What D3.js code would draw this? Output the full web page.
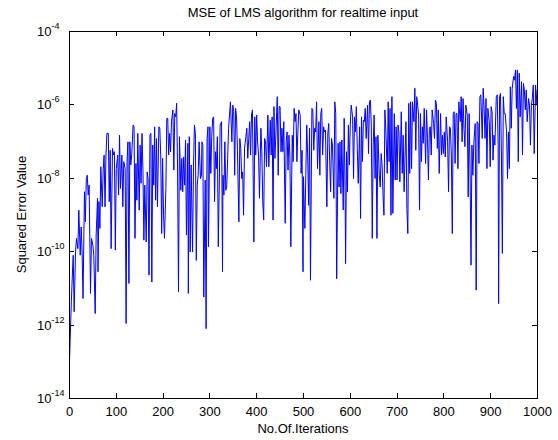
<!DOCTYPE html>
<html>
<head>
<meta charset="utf-8">
<script src="https://cdn.jsdelivr.net/npm/d3@7"></script>
<style>
  html, body { margin: 0; padding: 0; background: #fff; }
  svg { display: block; }
  text { font-family: "Liberation Sans", Arial, Helvetica, sans-serif; fill: #000; }
</style>
</head>
<body>
<script>
// MSE curve. errExp = log10 of the squared error
let iters = [
  1,5,8,9,11,14,16,19,21,24,26,28,30,33,35,37,39,41,43,46,48,51,53,56,58,61,62,64,66,68,71,73,75,77,79,81,84,86,88,90,93,95,97,99,101,104,106,108,110,113,115,117,120,122,124,126,128,130,132,134,137,
  139,141,143,145,147,150,152,154,156,158,160,162,165,167,169,171,173,175,177,179,181,183,185,187,189,192,194,196,198,200,202,204,207,209,211,213,215,217,219,222,224,226,228,230,232,234,236,239,241,243,245,247,249,251,254,255,257,259,261,264,266,268,270,272,274,276,278,281,283,
  284,286,288,291,293,295,297,298,301,303,305,307,309,311,313,315,317,319,321,323,326,328,329,331,333,335,337,339,341,343,345,348,350,352,354,356,358,360,363,365,367,369,371,373,375,378,380,382,384,386,388,390,392,395,397,399,401,403,405,407,410,412,414,416,418,420,422,425,427,
  430,432,434,436,438,440,442,445,447,449,451,453,455,457,459,462,464,466,468,470,472,474,477,479,481,483,485,487,489,491,494,496,498,500,501,504,506,508,510,512,514,516,519,521,523,525,527,529,531,534,536,538,540,542,544,546,548,551,553,555,557,559,561,563,566,568,570,572,
  575,577,579,581,583,586,588,590,591,593,595,597,599,601,603,606,608,610,612,614,616,618,621,623,625,627,629,631,633,635,638,640,642,644,646,648,650,652,654,656,658,660,663,665,667,669,671,673,675,677,680,682,684,686,688,690,692,695,697,699,701,703,705,707,710,712,714,716,
  720,722,724,726,728,730,732,734,737,739,741,743,745,747,749,751,753,755,757,759,762,764,766,768,770,772,774,776,779,781,783,785,787,789,791,794,796,798,800,802,804,806,809,811,813,815,817,819,821,823,825,827,829,831,833,836,838,840,842,844,846,848,851,853,855,857,859,861,863,865,868,
  870,872,874,876,878,880,883,885,887,889,891,893,895,898,900,902,904,906,908,910,913,915,917,918,920,922,924,926,928,930,932,935,937,939,941,943,945,947,950,952,954,956,958,960,962,964,967,969,971,973,975,977,979,982,984,986,988,990,992,994,997,998,1000
]

let errExp = [
  -13.02,-11.38,-10.38,-10.11,-11.65,-10.02,-9.65,-9.93,-8.88,-10.11,-9.34,-10.02,-11.29,-8.38,-9.2,-8.02,-7.93,-8.47,-8.2,-11.15,-9.65,-9.84,-10.11,-11.7,-9.56,-8.56,-10.56,-8.65,-9.38,-7.7,-8.79,-7.79,-7.38,-8.79,-7.38,-6.79,-6.79,-8.65,-7.25,-9.93,-7.2,-7.38,-7.29,-9.97,-7.75,-7.38,-8.47,-6.84,-8.29,-7.38,-8.79,-7.56,-7.75,-11.97,-7.56,-7.02,-10.88,-7.02,-7.65,-7.38,-6.56,
  -6.61,-9.65,-7.61,-8.61,-6.79,-8.88,-7.11,-8.15,-6.79,-7.79,-9.7,-8.2,-9.75,-7.84,-8.02,-10.65,-6.84,-6.79,-10.84,-7.11,-8.2,-6.61,-8.61,-6.93,-8.79,-6.61,-6.65,-7.38,-9.52,-7.47,-9.02,-9.65,-8.29,-6.38,-6.38,-7.38,-6.79,-7.29,-6.47,-6.15,-7.79,-6.25,-6.34,-5.97,-7.79,-11.11,-6.88,-8.34,-7.47,-8.38,-7.43,-8.2,-6.97,-9.56,-7.06,-11.15,-6.88,-10.02,-7.65,-10.02,-7.7,-6.56,-6.79,-10.25,-8.2,-7.93,-7.02,-8.02,-7.93,
  -7.02,-7.11,-11.25,-8.06,-12.11,-6.93,-6.61,-9.88,-6.61,-7.88,-6.88,-6.38,-6.34,-8.65,-7.29,-7.75,-6.88,-9.88,-8.25,-6.56,-6.47,-10.56,-7.93,-8.47,-7.02,-8.34,-8.25,-7.47,-6.65,-6.29,-5.93,-7.02,-6.02,-6.2,-7.93,-6.11,-6.34,-7.25,-9.2,-6.93,-7.2,-8.02,-7.84,-9.02,-7.2,-6.88,-6.65,-7.47,-6.93,-6.47,-7.38,-6.29,-6.15,-9.75,-6.34,-7.38,-6.29,-7.02,-7.38,-8.56,-6.65,-7.25,-8.65,-9.15,-6.93,-7.02,-7.7,-6.29,-7.7,
  -6.43,-7.38,-6.34,-9.15,-6.06,-7.47,-6.84,-5.79,-7.93,-6.06,-6.06,-7.29,-6.65,-7.29,-6.47,-9.24,-7.02,-6.75,-7.79,-6.84,-7.38,-9.88,-6.84,-7.56,-6.11,-6.47,-6.25,-7.56,-6.75,-6.15,-6.29,-7.88,-7.25,-10.56,-7.97,-9.38,-7.93,-6.56,-7.38,-8.75,-6.65,-10.79,-6.11,-6.15,-7.25,-6.65,-6.75,-5.93,-7.75,-6.47,-7.93,-6.25,-6.11,-7.38,-6.61,-6.75,-6.7,-8.79,-6.79,-6.52,-7.56,-8.38,-6.93,-7.11,-8.56,-5.93,-6.25,-10.75,
  -7.06,-8.25,-7.02,-8.43,-6.97,-8.88,-6.38,-8.47,-10.34,-7.29,-8.38,-6.56,-7.65,-6.56,-6.02,-6.34,-8.02,-6.34,-6.75,-6.06,-7.2,-8.15,-6.61,-9.11,-6.34,-7.56,-6.43,-6.47,-6.11,-6.93,-6.02,-7.34,-5.93,-5.88,-6.61,-9.65,-7.11,-6.29,-8.02,-6.88,-9.65,-6.84,-7.93,-8.25,-7.34,-7.65,-8.47,-9.02,-6.15,-6.7,-7.88,-5.93,-7.56,-6.11,-9.02,-5.79,-8.97,-6.25,-8.06,-6.61,-8.06,-6.56,-6.75,-8.11,-6.2,-7.88,-6.84,-8.38,
  -6.47,-8.84,-9.52,-5.97,-7.88,-5.93,-7.75,-5.93,-6.47,-5.56,-7.25,-5.79,-6.02,-6.29,-8.88,-6.25,-7.56,-6.61,-7.06,-6.11,-7.61,-6.15,-6.93,-8.06,-6.65,-6.61,-7.38,-6.15,-6.52,-6.93,-5.88,-5.97,-7.2,-6.15,-7.88,-6.25,-7.38,-6.84,-7.34,-6.75,-7.43,-6.34,-7.02,-8.38,-6.61,-6.65,-7.38,-9.52,-6.25,-6.2,-7.61,-6.25,-6.25,-7.75,-5.93,-6.47,-5.79,-7.02,-5.84,-6.65,-7.15,-6.02,-6.29,-8.52,-6.25,-7.84,-10.38,-7.11,-7.93,-7.06,-6.52,
  -11.06,-6.47,-6.52,-7.61,-5.79,-5.74,-6.93,-5.56,-6.11,-6.93,-5.84,-7.75,-6.11,-6.47,-7.7,-6.06,-6.2,-7.52,-6.84,-7.11,-5.79,-5.74,-7.11,-11.43,-5.79,-5.7,-7.38,-10.06,-5.79,-6.25,-6.25,-6.75,-8.02,-6.75,-7.75,-5.52,-6.65,-5.56,-5.24,-5.34,-5.06,-6.11,-5.06,-7.56,-5.15,-6.34,-5.38,-7.38,-5.43,-5.61,-6.15,-5.61,-6.47,-5.84,-6.02,-7.11,-6.02,-5.84,-5.47,-7.34,-5.47,-6.02,-5.6
]

let xTicks = d3.range(0, 1001, 100)
let yTickExp = [-4, -6, -8, -10, -12, -14]

let title = 'MSE of LMS algorithm for realtime input'
let xTitle = 'No.Of.Iterations'
let yTitle = 'Squared Error Value'

let W = 558, H = 440
let mLeft = 69, mRight = 537, mTop = 31, mBottom = 398

let data = iters.map((it, i) => ({ x: it, y: Math.pow(10, errExp[i]) }))

let x = d3.scaleLinear().domain([0, 1000]).range([mLeft, mRight])
let y = d3.scaleLog().domain([1e-14, 1e-4]).range([mBottom, mTop])

let svg = d3.select('body').append('svg')
  .attr('width', W)
  .attr('height', H)

svg.append('rect').attr('width', W).attr('height', H).attr('fill', '#fff')

// the curve
svg.append('clipPath').attr('id', 'plot')
  .append('rect')
  .attr('x', mLeft).attr('y', mTop)
  .attr('width', mRight - mLeft).attr('height', mBottom - mTop)

let line = d3.line().x(d => x(d.x)).y(d => y(d.y))

svg.append('path')
  .datum(data)
  .attr('clip-path', 'url(#plot)')
  .attr('fill', 'none')
  .attr('stroke', '#0000ff')
  .attr('stroke-width', 1)
  .attr('d', line)

// ticks on all four sides, pointing in (matlab style)
let yVals = yTickExp.map(e => Math.pow(10, e))

function noDomain(g) {
  g.select('.domain').remove()
  g.selectAll('.tick line').attr('stroke', '#000').attr('shape-rendering', 'crispEdges')
}

svg.append('g')
  .attr('transform', `translate(0,${mBottom})`)
  .call(d3.axisBottom(x).tickValues(xTicks).tickSize(-5).tickPadding(9).tickFormat(d3.format('d')))
  .call(noDomain)
  .call(g => g.selectAll('text')
    .attr('font-size', 13)
    .attr('font-family', '"Liberation Sans", Arial, sans-serif')
    .attr('fill', '#000'))

svg.append('g')
  .attr('transform', `translate(0,${mTop})`)
  .call(d3.axisTop(x).tickValues(xTicks).tickSize(-5).tickFormat(''))
  .call(noDomain)

svg.append('g')
  .attr('transform', `translate(${mLeft},0)`)
  .call(d3.axisLeft(y).tickValues(yVals).tickSize(-5).tickFormat(''))
  .call(noDomain)

svg.append('g')
  .attr('transform', `translate(${mRight},0)`)
  .call(d3.axisRight(y).tickValues(yVals).tickSize(-5).tickFormat(''))
  .call(noDomain)

// box
svg.append('rect')
  .attr('x', mLeft).attr('y', mTop)
  .attr('width', mRight - mLeft).attr('height', mBottom - mTop)
  .attr('fill', 'none')
  .attr('stroke', '#000')
  .attr('stroke-width', 1)
  .attr('shape-rendering', 'crispEdges')

// y labels, 10 with exponent
let yl = svg.append('g').selectAll('text').data(yTickExp).enter()
  .append('text')
  .attr('x', 37)
  .attr('y', d => y(Math.pow(10, d)) + 5)
  .attr('font-size', 13)

yl.append('tspan').text('10')
yl.append('tspan')
  .attr('dy', -7)
  .attr('font-size', 9)
  .text(d => '-' + Math.abs(d))

// titles
svg.append('text')
  .attr('x', (mLeft + mRight) / 2)
  .attr('y', 17)
  .attr('text-anchor', 'middle')
  .attr('font-size', 13)
  .text(title)

svg.append('text')
  .attr('x', (mLeft + mRight) / 2)
  .attr('y', 433)
  .attr('text-anchor', 'middle')
  .attr('font-size', 13)
  .text(xTitle)

svg.append('text')
  .attr('transform', `translate(26,${(mTop + mBottom) / 2}) rotate(-90)`)
  .attr('text-anchor', 'middle')
  .attr('font-size', 13)
  .text(yTitle)
</script>
</body>
</html>
